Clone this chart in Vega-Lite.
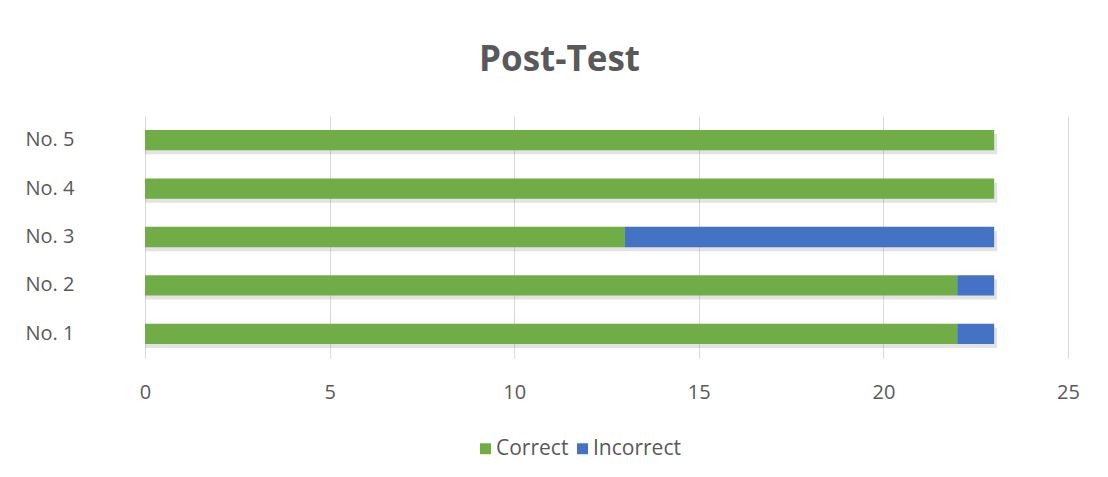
{
  "$schema": "https://vega.github.io/schema/vega-lite/v6.json",
  "width": 923,
  "height": 242,
  "autosize": {"type": "none"},
  "padding": {"left": 145, "top": 116, "right": 40, "bottom": 119},
  "background": "white",
  "title": {
    "text": "Post-Test",
    "anchor": "middle",
    "fontSize": 35,
    "font": "Open Sans",
    "fontWeight": "bold",
    "color": "#595959",
    "offset": 38,
    "dx": -47
  },
  "data": {
    "values": [
      {"q": "No. 1", "type": "Correct", "value": 22},
      {"q": "No. 1", "type": "Incorrect", "value": 1},
      {"q": "No. 2", "type": "Correct", "value": 22},
      {"q": "No. 2", "type": "Incorrect", "value": 1},
      {"q": "No. 3", "type": "Correct", "value": 13},
      {"q": "No. 3", "type": "Incorrect", "value": 10},
      {"q": "No. 4", "type": "Correct", "value": 23},
      {"q": "No. 4", "type": "Incorrect", "value": 0},
      {"q": "No. 5", "type": "Correct", "value": 23},
      {"q": "No. 5", "type": "Incorrect", "value": 0}
    ]
  },
  "encoding": {
    "y": {
      "field": "q",
      "type": "nominal",
      "sort": "descending",
      "scale": {"paddingInner": 0.58, "paddingOuter": 0.29},
      "axis": {
        "title": null,
        "domain": false,
        "ticks": false,
        "labelFont": "Open Sans",
        "labelFontSize": 20,
        "labelColor": "#595959",
        "labelAlign": "left",
        "labelPadding": 120
      }
    }
  },
  "layer": [
    {
      "mark": {"type": "bar", "color": "#7f7f7f", "opacity": 0.22, "xOffset": 3, "yOffset": 4},
      "encoding": {
        "x": {"aggregate": "sum", "field": "value", "type": "quantitative", "scale": {"domain": [0, 25]}}
      }
    },
    {
      "mark": {"type": "bar"},
      "encoding": {
        "x": {
          "field": "value",
          "type": "quantitative",
          "stack": "zero",
          "scale": {"domain": [0, 25]},
          "axis": {
            "title": null,
            "values": [0, 5, 10, 15, 20, 25],
            "domain": false,
            "ticks": false,
            "grid": true,
            "gridColor": "#d9d9d9",
            "labelFlush": false,
            "labelFont": "Open Sans",
            "labelFontSize": 20,
            "labelColor": "#595959",
            "labelPadding": 24
          }
        },
        "color": {
          "field": "type",
          "type": "nominal",
          "scale": {"domain": ["Correct", "Incorrect"], "range": ["#70AD47", "#4472C4"]},
          "legend": {
            "title": null,
            "orient": "none",
            "direction": "horizontal",
            "legendX": 330,
            "legendY": 322,
            "symbolType": "square",
            "symbolSize": 120,
            "symbolOpacity": 1,
            "symbolStrokeWidth": 0,
            "labelFont": "Open Sans",
            "labelFontSize": 21,
            "labelColor": "#595959",
            "labelOffset": 0,
            "columnPadding": 3
          }
        }
      }
    }
  ],
  "config": {"view": {"stroke": null}}
}
